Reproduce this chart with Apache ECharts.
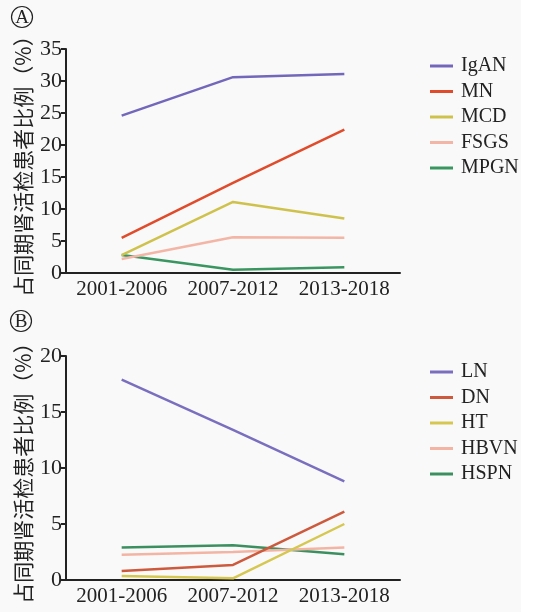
<!DOCTYPE html>
<html><head><meta charset="utf-8">
<script src="https://cdn.jsdelivr.net/npm/echarts@6/dist/echarts.min.js"></script>
<style>html,body{margin:0;padding:0;background:#fff;}#c{width:535px;height:612px;}</style>
</head><body><div id="c"></div>
<script>
const categories = ['2001-2006', '2007-2012', '2013-2018'];
const namesA = ['IgAN', 'MN', 'MCD', 'FSGS', 'MPGN'];
const IgAN = [24.6, 30.6, 31.1];
const MN = [5.5, 14.1, 22.4];
const MCD = [2.8, 11.1, 8.5];
const FSGS = [2.2, 5.6, 5.5];
const MPGN = [2.8, 0.5, 0.9];
const namesB = ['LN', 'DN', 'HT', 'HBVN', 'HSPN'];
const LN = [17.9, 13.4, 8.8];
const DN = [0.8, 1.35, 6.1];
const HT = [0.35, 0.15, 5.0];
const HBVN = [2.25, 2.5, 2.9];
const HSPN = [2.9, 3.1, 2.3];
const yTitle = '占同期肾活检患者比例（%）';

const colorsA = ['#7267ba', '#e04b2b', '#cfc24c', '#f3b6a6', '#3a9660'];
const colorsB = ['#7a6fbf', '#cd5a3c', '#d6c750', '#f3b4a4', '#3c9060'];
const serif = 'Liberation Serif';
const cjk = 'Noto Sans CJK SC';

function xAxis(gi) {
  return {
    type: 'category', gridIndex: gi, data: categories, boundaryGap: true,
    axisLine: {lineStyle: {color: '#222', width: 2}},
    axisTick: {alignWithLabel: true, length: 6, lineStyle: {color: '#222', width: 2}},
    axisLabel: {fontFamily: serif, fontSize: 21, color: '#222', margin: 6, interval: 0, hideOverlap: false}
  };
}
function yAxis(gi, max) {
  return {
    type: 'value', gridIndex: gi, min: 0, max: max, interval: 5,
    name: yTitle, nameLocation: 'middle', nameGap: 32, nameRotate: 90, nameMoveOverlap: false,
    nameTextStyle: {fontFamily: cjk, fontSize: 21, color: '#222'},
    splitLine: {show: false},
    axisLine: {show: true, lineStyle: {color: '#222', width: 2}},
    axisTick: {show: true, length: 5, lineStyle: {color: '#222', width: 2}},
    axisLabel: {fontFamily: serif, fontSize: 22, color: '#222', margin: 4}
  };
}
const dataA = [IgAN, MN, MCD, FSGS, MPGN];
const dataB = [LN, DN, HT, HBVN, HSPN];
const series = [];
namesA.forEach((n, i) => series.push({
  name: n, type: 'line', xAxisIndex: 0, yAxisIndex: 0, data: dataA[i],
  symbol: 'none', lineStyle: {width: 2.5, color: colorsA[i]}, itemStyle: {color: colorsA[i]}, z: 10 - i
}));
namesB.forEach((n, i) => series.push({
  name: n, type: 'line', xAxisIndex: 1, yAxisIndex: 1, data: dataB[i],
  symbol: 'none', lineStyle: {width: 2.5, color: colorsB[i]}, itemStyle: {color: colorsB[i]}, z: 10 - i
}));
function legend(names, top) {
  return {
    data: names, orient: 'vertical', left: 425, top: top, itemGap: 5.5,
    itemWidth: 23, itemHeight: 20, icon: 'path://M0,8.5 L23,8.5 L23,11.5 L0,11.5 Z',
    textStyle: {fontFamily: serif, fontSize: 20, color: '#222', padding: [0, 0, 0, 3]},
    selectedMode: false
  };
}
function circled(letter, cx, cy) {
  return [
    {type: 'circle', shape: {cx: cx, cy: cy, r: 10.5}, style: {fill: 'none', stroke: '#222', lineWidth: 1.2}},
    {type: 'text', x: cx, y: cy + 1, style: {text: letter, font: '19px "Liberation Serif"', fill: '#222', align: 'center', verticalAlign: 'middle'}}
  ];
}
const chart = echarts.init(document.getElementById('c'));
chart.setOption({
  backgroundColor: '#f9f9f9',
  animation: false,
  grid: [
    {left: 66, top: 49, width: 334, height: 224},
    {left: 66, top: 356, width: 334, height: 224}
  ],
  xAxis: [xAxis(0), xAxis(1)],
  yAxis: [yAxis(0, 35), yAxis(1, 20)],
  legend: [legend(namesA, 51), legend(namesB, 357)],
  graphic: [
    {type: 'rect', shape: {x: 521, y: 0, width: 14, height: 612}, style: {fill: '#ffffff'}, silent: true},
    ...circled('A', 22, 17),
    ...circled('B', 21, 321)
  ],
  series: series
});
</script></body></html>
